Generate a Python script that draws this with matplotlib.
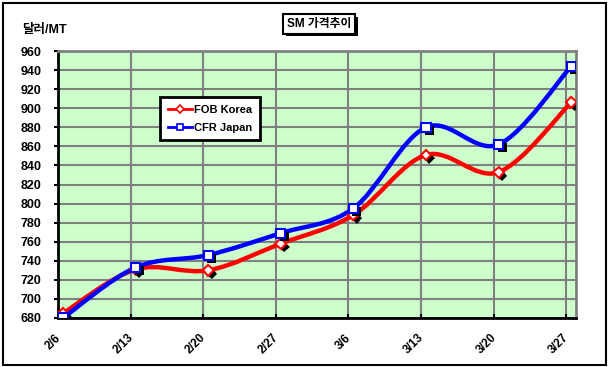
import numpy as np
import matplotlib
matplotlib.use("Agg")
import matplotlib.pyplot as plt
from matplotlib.path import Path
from matplotlib.patches import PathPatch, Rectangle
from matplotlib.lines import Line2D
import matplotlib.patheffects as pe

plt.rcParams['font.family'] = ['Liberation Sans', 'Noto Sans CJK KR']
plt.rcParams['font.weight'] = 'bold'

# data (US$/MT, weekly)
dates = ['2/6', '2/13', '2/20', '2/27', '3/6', '3/13', '3/20', '3/27']
fob_korea = [685, 731, 730, 758, 788, 851, 833, 906]
cfr_japan = [680, 733, 746, 769, 795, 880, 862, 944]
y_ticks = list(range(680, 961, 20))

title = 'SM 가격추이'
y_label = '달러/MT'

W, H = 608, 367
fig = plt.figure(figsize=(W / 100, H / 100), dpi=100)
fig.patch.set_facecolor('white')

# outer chart frame
fig.add_artist(Rectangle((2.5 / W, 2.5 / H), (W - 5) / W, (H - 5) / H,
                         transform=fig.transFigure, fill=False,
                         edgecolor='black', lw=1.5))

ax = fig.add_axes([58 / W, 1 - 318 / H, (576 - 58) / W, (318 - 51) / H])
ax.set_facecolor('#CCFFCC')

x = np.arange(len(dates))
shift = 5 / 72.6  # markers sit a little right of the gridlines
ax.set_xlim(-shift, len(dates) - 1 + 513 / 72.6 - 7)
ax.set_ylim(680, 960)


def smooth_path(xs, ys):
    # Excel-style smoothed line: cubic Bezier through each point
    pts = np.column_stack([xs, ys]).astype(float)
    n = len(pts)
    verts = [pts[0]]
    codes = [Path.MOVETO]
    for i in range(n - 1):
        p_prev = pts[i - 1] if i > 0 else pts[i]
        p_next2 = pts[i + 2] if i + 2 < n else pts[i + 1]
        c1 = pts[i] + (pts[i + 1] - p_prev) / 6
        c2 = pts[i + 1] - (p_next2 - pts[i]) / 6
        verts += [c1, c2, pts[i + 1]]
        codes += [Path.CURVE4] * 3
    return Path(verts, codes)


shadow = [pe.withSimplePatchShadow(offset=(2.5, -2.5), shadow_rgbFace='black', alpha=1.0)]

for vals, color, marker, ms in [(fob_korea, 'red', 'D', 5.5), (cfr_japan, 'blue', 's', 6.5)]:
    ax.add_patch(PathPatch(smooth_path(x, vals), fill=False, edgecolor=color,
                           lw=3.2, capstyle='round', zorder=3))
    ax.plot(x, vals, linestyle='none', marker=marker, ms=ms, mfc='white',
            mec=color, mew=1.5, zorder=4, path_effects=shadow)

# grid
ax.set_yticks(y_ticks)
ax.set_xticks(x)
ax.set_xticks(np.arange(1, len(dates)) - shift, minor=True)
ax.grid(axis='y', which='major', color='#808080', lw=1.5)
ax.grid(axis='x', which='minor', color='#808080', lw=1.5)
ax.set_axisbelow(True)

ax.set_xticklabels(dates, rotation=45, ha='right', va='top', fontsize=8.5)
ax.tick_params(axis='x', which='major', length=0, pad=10)
ax.tick_params(axis='x', which='minor', length=3, direction='in', color='black', width=1.5)
ax.tick_params(axis='y', length=3, width=1.5, pad=9, labelsize=9)

for s in ['left', 'bottom']:
    ax.spines[s].set_color('black')
    ax.spines[s].set_linewidth(2)
for s in ['top', 'right']:
    ax.spines[s].set_color('#808080')
    ax.spines[s].set_linewidth(2)

# title box
t = fig.text(319 / W, 1 - 24 / H, title, ha='center', va='center', fontsize=8.5,
             fontweight='bold',
             bbox=dict(boxstyle='square,pad=0.3', fc='white', ec='black', lw=1.5))
t.get_bbox_patch().set_path_effects([pe.withSimplePatchShadow(offset=(2, -2), shadow_rgbFace='black', alpha=1.0)])

fig.text(22 / W, 1 - 30 / H, y_label, ha='left', va='center', fontsize=9, fontweight='bold')

# legend
handles = [
    Line2D([], [], color='red', lw=2, marker='D', ms=4.5, mfc='white', mec='red', mew=1.2),
    Line2D([], [], color='blue', lw=2, marker='s', ms=5, mfc='white', mec='blue', mew=1.2),
]
leg = ax.legend(handles, ['FOB Korea', 'CFR Japan'], loc='upper left',
                bbox_to_anchor=(160 / W, 1 - 97 / H), bbox_transform=fig.transFigure,
                borderaxespad=0, fancybox=False, framealpha=1, edgecolor='black',
                prop={'size': 8, 'weight': 'bold'}, handlelength=2.2, handletextpad=0.2,
                borderpad=0.7, labelspacing=0.7)
leg.get_frame().set_linewidth(2)

fig.savefig('out.png', dpi=100)
